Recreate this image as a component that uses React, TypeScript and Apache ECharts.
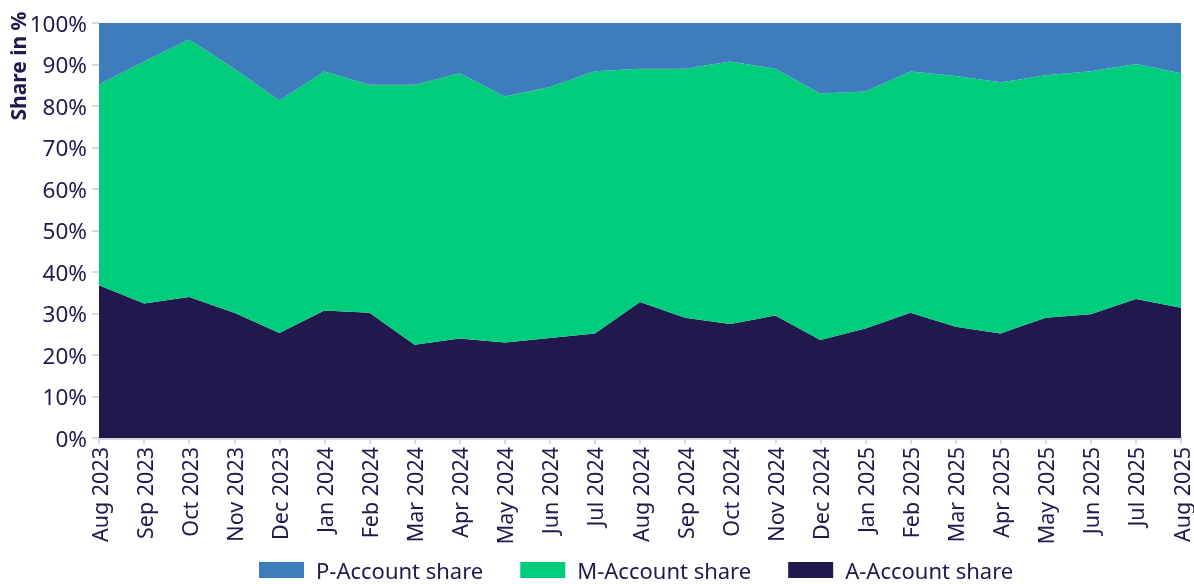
import React, { useEffect, useRef } from "react";
import * as echarts from "echarts";

const categories = [
  "Aug 2023", "Sep 2023", "Oct 2023", "Nov 2023", "Dec 2023",
  "Jan 2024", "Feb 2024", "Mar 2024", "Apr 2024", "May 2024", "Jun 2024", "Jul 2024",
  "Aug 2024", "Sep 2024", "Oct 2024", "Nov 2024", "Dec 2024",
  "Jan 2025", "Feb 2025", "Mar 2025", "Apr 2025", "May 2025", "Jun 2025", "Jul 2025", "Aug 2025",
];

// A-Account share (bottom layer), in %
const aShare = [
  36.8, 32.4, 34.0, 30.2, 25.3, 30.7, 30.2, 22.5, 24.0, 23.0, 24.1, 25.2,
  32.8, 29.0, 27.5, 29.5, 23.6, 26.4, 30.2, 26.8, 25.2, 29.0, 29.8, 33.5, 31.4,
];
// M-Account share (middle layer), in %
const mShare = [
  48.4, 58.3, 62.0, 58.8, 56.0, 57.6, 54.9, 62.6, 63.9, 59.3, 60.5, 63.2,
  56.2, 60.0, 63.2, 59.5, 59.4, 57.1, 58.1, 60.4, 60.5, 58.4, 58.6, 56.6, 56.5,
];
// P-Account share (top layer), in %
const pShare = [
  14.8, 9.3, 4.0, 11.0, 18.7, 11.7, 14.9, 14.9, 12.1, 17.7, 15.4, 11.6,
  11.0, 11.0, 9.3, 11.0, 17.0, 16.5, 11.7, 12.8, 14.3, 12.6, 11.6, 9.9, 12.1,
];

const yTicks = [0, 10, 20, 30, 40, 50, 60, 70, 80, 90, 100];

const NAVY = "#21194d";
const FONT = "'Noto Sans', 'Open Sans', sans-serif";

export default function App() {
  const ref = useRef<HTMLDivElement>(null);
  useEffect(() => {
    if (!ref.current) return;
    const chart = echarts.init(ref.current, undefined, { renderer: "svg" });
    const mkSeries = (name: string, data: number[], color: string) => ({
      name,
      type: "line",
      stack: "total",
      data,
      showSymbol: false,
      symbol: "none",
      lineStyle: { width: 0 },
      itemStyle: { color },
      areaStyle: { color, opacity: 1 },
    });
    chart.setOption({
      animation: false,
      textStyle: { fontFamily: FONT },
      grid: { left: 99, right: 13, top: 23, bottom: 146, containLabel: false },
      legend: {
        top: 559,
        left: 259,
        padding: 0,
        itemWidth: 45,
        itemHeight: 16,
        itemGap: 37,
        icon: "rect",
        data: ["P-Account share", "M-Account share", "A-Account share"],
        textStyle: { color: NAVY, fontSize: 22, fontFamily: FONT, padding: [0, 0, 0, 7] },
      },
      xAxis: {
        type: "category",
        data: categories,
        boundaryGap: false,
        axisLine: { show: true, lineStyle: { color: "#d9d9d9", width: 3 } },
        axisTick: { show: true, alignWithLabel: true, length: 6, lineStyle: { color: "#d9d9d9", width: 2 } },
        axisLabel: {
          rotate: 90,
          interval: 0,
          margin: 9,
          color: NAVY,
          fontSize: 21.5,
          fontFamily: FONT,
        },
        splitLine: { show: false },
      },
      yAxis: {
        type: "value",
        min: 0,
        max: 100,
        interval: 10,
        axisLine: { show: false },
        axisTick: { show: true, length: 7, lineStyle: { color: "#d9d9d9", width: 2 } },
        axisLabel: {
          margin: 12,
          color: NAVY,
          fontSize: 22.5,
          fontFamily: FONT,
          formatter: (v: number) => (yTicks.includes(v) ? `${v}%` : ""),
        },
        splitLine: { show: false },
      },
      graphic: [
        {
          type: "text",
          x: 18,
          y: 66,
          rotation: Math.PI / 2,
          style: {
            text: "Share in %",
            fill: NAVY,
            font: `bold 21px ${FONT}`,
            textAlign: "center",
            textVerticalAlign: "middle",
          },
        },
      ],
      series: [
        mkSeries("A-Account share", aShare, "#21194d"),
        mkSeries("M-Account share", mShare, "#00cd7c"),
        mkSeries("P-Account share", pShare, "#3d7dbd"),
      ],
    });
    return () => chart.dispose();
  }, []);
  return (
    <div
      ref={ref}
      style={{ position: "fixed", left: 0, top: 0, width: 1194, height: 584 }}
    />
  );
}
